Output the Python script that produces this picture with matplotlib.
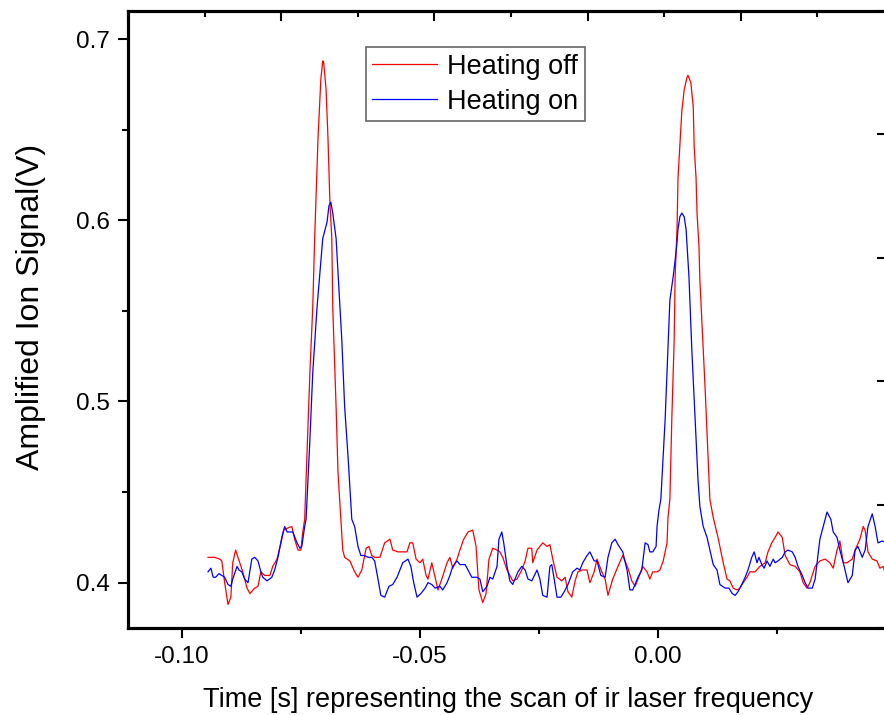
import numpy as np
import matplotlib
matplotlib.use("Agg")
import matplotlib.pyplot as plt
from matplotlib.ticker import MultipleLocator

plt.rcParams['font.family'] = ['Liberation Sans', 'DejaVu Sans']

# ---------------------------------------------------------------------------
# Data
# ---------------------------------------------------------------------------
t_off = [-0.0945, -0.0931, -0.0920, -0.0916, -0.0910, -0.0903, -0.0897, -0.0893,
         -0.0887, -0.0882, -0.0872, -0.0863, -0.0857, -0.0847, -0.0840, -0.0834,
         -0.0826, -0.0815, -0.0809, -0.0800, -0.0790, -0.0786, -0.0779, -0.0769,
         -0.0763, -0.0756, -0.0750, -0.0746, -0.0742, -0.0731, -0.0725, -0.0721,
         -0.0714, -0.0708, -0.0704, -0.0702, -0.0697, -0.0693, -0.0689, -0.0685,
         -0.0683, -0.0676, -0.0672, -0.0666, -0.0662, -0.0658, -0.0647, -0.0637,
         -0.0630, -0.0622, -0.0613, -0.0607, -0.0601, -0.0595, -0.0584, -0.0574,
         -0.0563, -0.0557, -0.0546, -0.0536, -0.0527, -0.0521, -0.0515, -0.0508,
         -0.0500, -0.0494, -0.0487, -0.0483, -0.0475, -0.0468, -0.0462, -0.0454,
         -0.0443, -0.0437, -0.0431, -0.0422, -0.0416, -0.0408, -0.0399, -0.0389,
         -0.0382, -0.0376, -0.0368, -0.0361, -0.0355, -0.0347, -0.0338, -0.0332,
         -0.0326, -0.0317, -0.0311, -0.0305, -0.0296, -0.0286, -0.0279, -0.0273,
         -0.0265, -0.0263, -0.0254, -0.0248, -0.0242, -0.0233, -0.0227, -0.0221,
         -0.0212, -0.0202, -0.0195, -0.0189, -0.0181, -0.0174, -0.0168, -0.0160,
         -0.0149, -0.0143, -0.0134, -0.0128, -0.0118, -0.0111, -0.0105, -0.0095,
         -0.0084, -0.0074, -0.0063, -0.0055, -0.0048, -0.0042, -0.0032, -0.0023,
         -0.0017, -0.0011, -0.0002, 0.0004, 0.0011, 0.0019, 0.0021, 0.0025,
         0.0029, 0.0034, 0.0036, 0.0040, 0.0042, 0.0046, 0.0050, 0.0055,
         0.0061, 0.0063, 0.0069, 0.0074, 0.0076, 0.0080, 0.0082, 0.0086,
         0.0088, 0.0099, 0.0109, 0.0116, 0.0126, 0.0137, 0.0145, 0.0151,
         0.0158, 0.0166, 0.0172, 0.0179, 0.0187, 0.0193, 0.0204, 0.0214,
         0.0225, 0.0231, 0.0239, 0.0246, 0.0252, 0.0261, 0.0267, 0.0277,
         0.0288, 0.0298, 0.0305, 0.0313, 0.0319, 0.0330, 0.0340, 0.0351,
         0.0361, 0.0368, 0.0376, 0.0382, 0.0389, 0.0397, 0.0408, 0.0414,
         0.0424, 0.0431, 0.0435, 0.0441, 0.0450, 0.0460, 0.0466, 0.0473,
         0.0479]
v_off = [0.414, 0.414, 0.413, 0.412, 0.400, 0.388, 0.392, 0.411,
         0.418, 0.414, 0.406, 0.397, 0.394, 0.397, 0.398, 0.406,
         0.404, 0.404, 0.409, 0.413, 0.424, 0.429, 0.430, 0.431,
         0.424, 0.418, 0.418, 0.428, 0.435, 0.516, 0.552, 0.590,
         0.645, 0.678, 0.688, 0.687, 0.672, 0.645, 0.610, 0.590,
         0.552, 0.497, 0.461, 0.435, 0.418, 0.414, 0.412, 0.406,
         0.403, 0.407, 0.419, 0.420, 0.415, 0.414, 0.414, 0.422,
         0.424, 0.418, 0.417, 0.417, 0.417, 0.422, 0.422, 0.413,
         0.411, 0.413, 0.404, 0.402, 0.411, 0.403, 0.396, 0.402,
         0.411, 0.414, 0.408, 0.413, 0.418, 0.424, 0.428, 0.429,
         0.420, 0.396, 0.389, 0.394, 0.413, 0.419, 0.418, 0.417,
         0.414, 0.407, 0.404, 0.401, 0.402, 0.407, 0.412, 0.419,
         0.419, 0.411, 0.418, 0.420, 0.422, 0.420, 0.421, 0.413,
         0.403, 0.401, 0.403, 0.395, 0.392, 0.401, 0.406, 0.407,
         0.407, 0.400, 0.406, 0.413, 0.406, 0.402, 0.393, 0.402,
         0.409, 0.415, 0.408, 0.401, 0.398, 0.402, 0.409, 0.406,
         0.402, 0.406, 0.406, 0.407, 0.412, 0.422, 0.436, 0.446,
         0.490, 0.534, 0.569, 0.595, 0.623, 0.641, 0.660, 0.672,
         0.679, 0.680, 0.676, 0.663, 0.641, 0.623, 0.604, 0.586,
         0.567, 0.507, 0.446, 0.436, 0.425, 0.411, 0.402, 0.401,
         0.397, 0.396, 0.397, 0.400, 0.403, 0.406, 0.406, 0.409,
         0.411, 0.417, 0.422, 0.425, 0.428, 0.425, 0.415, 0.410,
         0.409, 0.406, 0.400, 0.397, 0.400, 0.409, 0.412, 0.413,
         0.411, 0.408, 0.418, 0.423, 0.411, 0.411, 0.413, 0.418,
         0.424, 0.431, 0.429, 0.417, 0.413, 0.412, 0.408, 0.409,
         0.403]

t_on = [-0.0945, -0.0939, -0.0934, -0.0929, -0.0922, -0.0916, -0.0910, -0.0903,
        -0.0897, -0.0893, -0.0884, -0.0880, -0.0874, -0.0868, -0.0861, -0.0853,
        -0.0847, -0.0840, -0.0834, -0.0830, -0.0821, -0.0811, -0.0805, -0.0798,
        -0.0790, -0.0784, -0.0779, -0.0773, -0.0767, -0.0758, -0.0752, -0.0748,
        -0.0742, -0.0739, -0.0731, -0.0725, -0.0716, -0.0710, -0.0704, -0.0695,
        -0.0691, -0.0687, -0.0683, -0.0676, -0.0672, -0.0664, -0.0658, -0.0651,
        -0.0643, -0.0637, -0.0630, -0.0624, -0.0616, -0.0609, -0.0601, -0.0595,
        -0.0588, -0.0582, -0.0574, -0.0565, -0.0557, -0.0548, -0.0542, -0.0536,
        -0.0525, -0.0519, -0.0513, -0.0506, -0.0498, -0.0489, -0.0483, -0.0475,
        -0.0468, -0.0458, -0.0452, -0.0443, -0.0437, -0.0431, -0.0422, -0.0416,
        -0.0405, -0.0399, -0.0391, -0.0380, -0.0374, -0.0368, -0.0359, -0.0353,
        -0.0347, -0.0338, -0.0334, -0.0328, -0.0324, -0.0317, -0.0311, -0.0305,
        -0.0294, -0.0286, -0.0279, -0.0273, -0.0265, -0.0254, -0.0248, -0.0242,
        -0.0233, -0.0227, -0.0223, -0.0218, -0.0212, -0.0204, -0.0197, -0.0189,
        -0.0179, -0.0170, -0.0164, -0.0158, -0.0149, -0.0143, -0.0134, -0.0128,
        -0.0120, -0.0111, -0.0105, -0.0097, -0.0090, -0.0084, -0.0074, -0.0065,
        -0.0059, -0.0053, -0.0042, -0.0034, -0.0027, -0.0021, -0.0017, -0.0011,
        -0.0004, -0.0002, 0.0002, 0.0006, 0.0015, 0.0021, 0.0025, 0.0032,
        0.0036, 0.0040, 0.0042, 0.0046, 0.0050, 0.0055, 0.0059, 0.0063,
        0.0065, 0.0071, 0.0078, 0.0084, 0.0088, 0.0095, 0.0103, 0.0109,
        0.0116, 0.0124, 0.0130, 0.0141, 0.0149, 0.0156, 0.0162, 0.0168,
        0.0176, 0.0183, 0.0189, 0.0197, 0.0202, 0.0208, 0.0212, 0.0218,
        0.0223, 0.0229, 0.0235, 0.0242, 0.0246, 0.0252, 0.0261, 0.0267,
        0.0273, 0.0282, 0.0288, 0.0294, 0.0303, 0.0309, 0.0315, 0.0324,
        0.0330, 0.0334, 0.0340, 0.0347, 0.0355, 0.0363, 0.0368, 0.0376,
        0.0382, 0.0391, 0.0399, 0.0408, 0.0414, 0.0420, 0.0429, 0.0435,
        0.0441, 0.0450, 0.0456, 0.0462, 0.0471, 0.0479]
v_on = [0.406, 0.408, 0.403, 0.403, 0.405, 0.404, 0.403, 0.399,
        0.398, 0.402, 0.409, 0.407, 0.406, 0.402, 0.400, 0.413,
        0.414, 0.412, 0.406, 0.403, 0.401, 0.403, 0.407, 0.414,
        0.425, 0.431, 0.428, 0.428, 0.428, 0.422, 0.419, 0.420,
        0.431, 0.435, 0.479, 0.516, 0.552, 0.571, 0.590, 0.599,
        0.608, 0.610, 0.604, 0.590, 0.571, 0.534, 0.497, 0.470,
        0.435, 0.431, 0.420, 0.415, 0.415, 0.414, 0.414, 0.412,
        0.402, 0.393, 0.392, 0.398, 0.399, 0.403, 0.407, 0.411,
        0.413, 0.409, 0.400, 0.392, 0.394, 0.397, 0.400, 0.399,
        0.397, 0.398, 0.396, 0.400, 0.404, 0.409, 0.412, 0.410,
        0.410, 0.407, 0.403, 0.403, 0.402, 0.395, 0.398, 0.403,
        0.402, 0.409, 0.424, 0.428, 0.422, 0.409, 0.401, 0.399,
        0.406, 0.409, 0.407, 0.402, 0.401, 0.407, 0.402, 0.393,
        0.392, 0.409, 0.410, 0.402, 0.392, 0.392, 0.395, 0.399,
        0.406, 0.408, 0.407, 0.411, 0.415, 0.417, 0.412, 0.412,
        0.404, 0.403, 0.414, 0.422, 0.424, 0.421, 0.417, 0.407,
        0.396, 0.396, 0.403, 0.407, 0.422, 0.421, 0.417, 0.417,
        0.420, 0.431, 0.440, 0.446, 0.490, 0.529, 0.556, 0.569,
        0.578, 0.588, 0.595, 0.602, 0.604, 0.602, 0.595, 0.578,
        0.569, 0.529, 0.490, 0.457, 0.442, 0.431, 0.425, 0.418,
        0.410, 0.407, 0.399, 0.397, 0.397, 0.394, 0.393, 0.395,
        0.399, 0.403, 0.407, 0.414, 0.417, 0.411, 0.414, 0.410,
        0.408, 0.412, 0.409, 0.413, 0.411, 0.412, 0.414, 0.417,
        0.418, 0.417, 0.414, 0.409, 0.404, 0.400, 0.397, 0.397,
        0.402, 0.411, 0.424, 0.431, 0.439, 0.435, 0.428, 0.425,
        0.418, 0.409, 0.400, 0.404, 0.418, 0.420, 0.414, 0.418,
        0.431, 0.438, 0.431, 0.422, 0.423, 0.422]

x_ticks = [-0.10, -0.05, 0.00]
y_ticks = [0.4, 0.5, 0.6, 0.7]

# ---------------------------------------------------------------------------
# Figure
# ---------------------------------------------------------------------------
fig = plt.figure(figsize=(8.84, 7.15), dpi=100)
# axes deliberately run past the right edge of the figure (as in the original)
ax = fig.add_axes([0.1448, 0.1217, 0.8597, 0.8629])

ax.plot(t_off, v_off, color='#ff0000', lw=0.9, label='Heating off')
ax.plot(t_on, v_on, color='#0000ff', lw=0.9, label='Heating on')

ax.set_xlim(-0.1113, 0.0483)
ax.set_ylim(0.375, 0.7155)
ax.set_xticks(x_ticks)
ax.set_xticklabels(['-0.10', '-0.05', '0.00'])
ax.set_yticks(y_ticks)
ax.xaxis.set_minor_locator(MultipleLocator(0.025))
ax.yaxis.set_minor_locator(MultipleLocator(0.05))
ax.tick_params(which='major', direction='out', length=7, width=1.5,
               labelsize=17.5, pad=6, top=False, right=False)
ax.tick_params(which='minor', direction='out', length=4, width=1.5,
               top=False, right=False)
for s in ax.spines.values():
    s.set_linewidth(2.2)

ax.set_xlabel('Time [s] representing the scan of ir laser frequency',
              fontsize=19.5, labelpad=14)
ax.set_ylabel('Amplified Ion Signal(V)', fontsize=23)
ax.yaxis.set_label_coords(-0.108, 0.52)

# unlabeled top / right axes with their own tick spacing
axt = ax.twiny()
axt.set_xlim(0, 4.96)
axt.xaxis.set_major_locator(MultipleLocator(1))
axt.xaxis.set_minor_locator(MultipleLocator(0.5))
axt.tick_params(axis='x', which='major', direction='in', length=7, width=1.5,
                labeltop=False)
axt.tick_params(axis='x', which='minor', direction='in', length=4, width=1.5)

axr = ax.twinx()
axr.set_ylim(0, 5)
axr.yaxis.set_major_locator(MultipleLocator(1))
axr.tick_params(axis='y', which='major', direction='in', length=8, width=1.5,
                labelright=False)
for a in (axt, axr):
    for s in a.spines.values():
        s.set_linewidth(2.2)

leg = ax.legend(loc='upper left', bbox_to_anchor=(0.414, 0.934),
                bbox_transform=fig.transFigure, fontsize=19.5, frameon=True,
                fancybox=False, handlelength=2.4, handletextpad=0.35,
                labelspacing=0.34, borderpad=0.24, borderaxespad=0)
leg.get_frame().set_edgecolor('#404040')
leg.get_frame().set_linewidth(1.2)

fig.savefig('out.png', dpi=100)
